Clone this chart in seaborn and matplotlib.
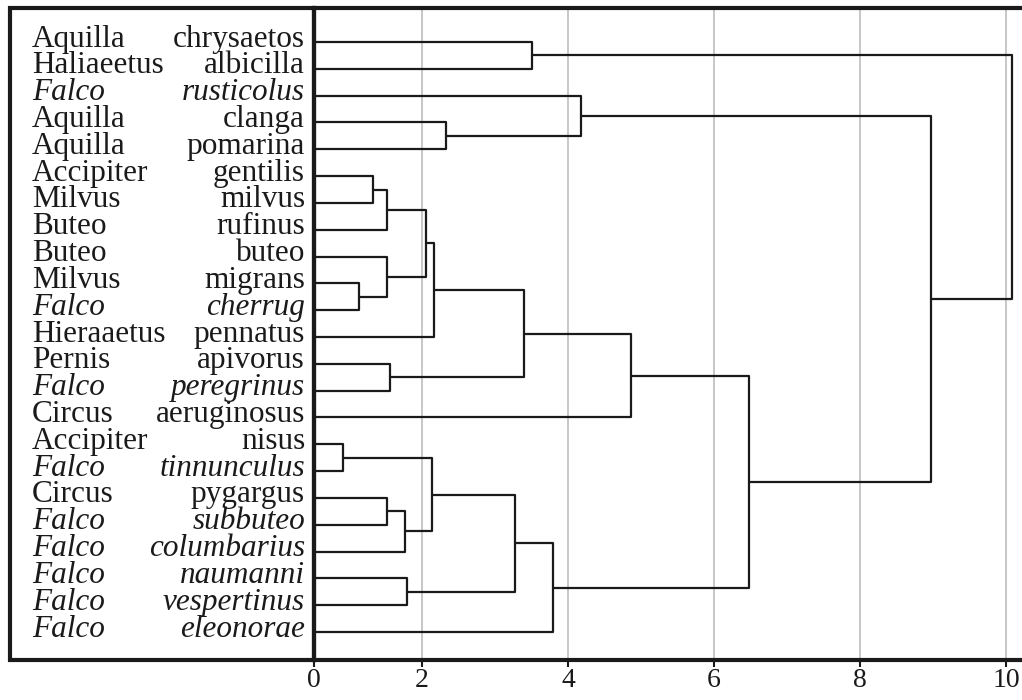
import numpy as np
import pandas as pd
import matplotlib
matplotlib.use("Agg")
from matplotlib import pyplot as plt
from matplotlib import transforms
from matplotlib.patches import Rectangle
import seaborn as sns

# Leaves, top to bottom
genus = ["Aquilla", "Haliaeetus", "Falco", "Aquilla", "Aquilla", "Accipiter",
         "Milvus", "Buteo", "Buteo", "Milvus", "Falco", "Hieraaetus", "Pernis",
         "Falco", "Circus", "Accipiter", "Falco", "Circus", "Falco", "Falco",
         "Falco", "Falco", "Falco"]
species = ["chrysaetos", "albicilla", "rusticolus", "clanga", "pomarina",
           "gentilis", "milvus", "rufinus", "buteo", "migrans", "cherrug",
           "pennatus", "apivorus", "peregrinus", "aeruginosus", "nisus",
           "tinnunculus", "pygargus", "subbuteo", "columbarius", "naumanni",
           "vespertinus", "eleonorae"]

# Linkage: nodes 0..22 are leaves, node 23+k is made by merge k
merge_left = [15, 9, 5, 25, 8, 17, 12, 28, 20, 26, 23, 32, 3, 33, 34, 0,
              36, 2, 37, 41, 40, 38]
merge_right = [16, 10, 6, 7, 24, 18, 13, 19, 21, 27, 30, 11, 4, 31, 29, 1,
               22, 35, 14, 39, 42, 43]
merge_height = [0.54, 0.83, 1.09, 1.35, 1.35, 1.35, 1.41, 1.69, 1.72, 2.05,
                2.14, 2.16, 2.33, 3.27, 3.40, 3.51, 3.79, 4.18, 4.86, 6.48,
                8.97, 10.08]
x_ticks = [0, 2, 4, 6, 8, 10]

n_leaves = len(genus)

# build the elbow segments of the tree
pos = {i: float(i) for i in range(n_leaves)}
hgt = {i: 0.0 for i in range(n_leaves)}
rows = []
for k, (a, b, h) in enumerate(zip(merge_left, merge_right, merge_height)):
    node = n_leaves + k
    for xx, yy in [(hgt[a], pos[a]), (h, pos[a]), (h, pos[b]), (hgt[b], pos[b])]:
        rows.append({"seg": k, "x": xx, "y": yy})
    pos[node] = (pos[a] + pos[b]) / 2
    hgt[node] = h
segs = pd.DataFrame(rows)

sns.set_theme(style="white")
plt.rcParams["font.family"] = ["Liberation Serif", "DejaVu Serif"]

W, H = 1022, 700
fig = plt.figure(figsize=(W / 100, H / 100), dpi=100)
ax = fig.add_axes([314 / W, 1 - 660 / H, (W - 314) / W, (660 - 8) / H])

sns.lineplot(data=segs, x="x", y="y", units="seg", estimator=None, sort=False,
             color="#1a1a1a", linewidth=1.6, legend=False, ax=ax)

# the 0-2 stretch of the axis is drawn compressed in the original
k_sq = 54 / 73


def fwd(x):
    x = np.asarray(x, dtype=float)
    return np.where(x < 2, x * k_sq, 2 * k_sq + (x - 2))


def inv(y):
    y = np.asarray(y, dtype=float)
    return np.where(y < 2 * k_sq, y / k_sq, y - 2 * k_sq + 2)


ax.set_xscale("function", functions=(fwd, inv))
ax.set_xlim(0, 10.22)
ax.set_ylim(22 + 28 / 26.8, -34 / 26.8)
ax.set_xticks(x_ticks)
ax.set_xticklabels([str(t) for t in x_ticks])
ax.set_yticks([])
ax.set_xlabel("")
ax.set_ylabel("")
ax.grid(axis="x", color="#bdbdbd", linewidth=1.2)
ax.set_axisbelow(True)
ax.tick_params(axis="x", bottom=True, direction="out", length=5, width=1.5,
               color="#1a1a1a", labelsize=20, pad=1, labelcolor="#1a1a1a")

for side in ["left", "top", "bottom"]:
    ax.spines[side].set_linewidth(3)
    ax.spines[side].set_color("#1a1a1a")
ax.spines["right"].set_visible(False)

# frame around the label panel
fig.add_artist(Rectangle((10 / W, 1 - 660 / H), (314 - 10) / W, (660 - 8) / H,
                         transform=fig.transFigure, fill=False,
                         linewidth=3, edgecolor="#1a1a1a"))

trans = transforms.blended_transform_factory(fig.transFigure, ax.transData)
for i, (g, s) in enumerate(zip(genus, species)):
    st = "italic" if g == "Falco" else "normal"
    ax.text(32 / W, i + 0.17, g, transform=trans, ha="left", va="baseline",
            fontsize=22.5, style=st, color="#1a1a1a")
    ax.text(305 / W, i + 0.17, s, transform=trans, ha="right", va="baseline",
            fontsize=22.5, style=st, color="#1a1a1a")

fig.savefig("out.png", dpi=100)
